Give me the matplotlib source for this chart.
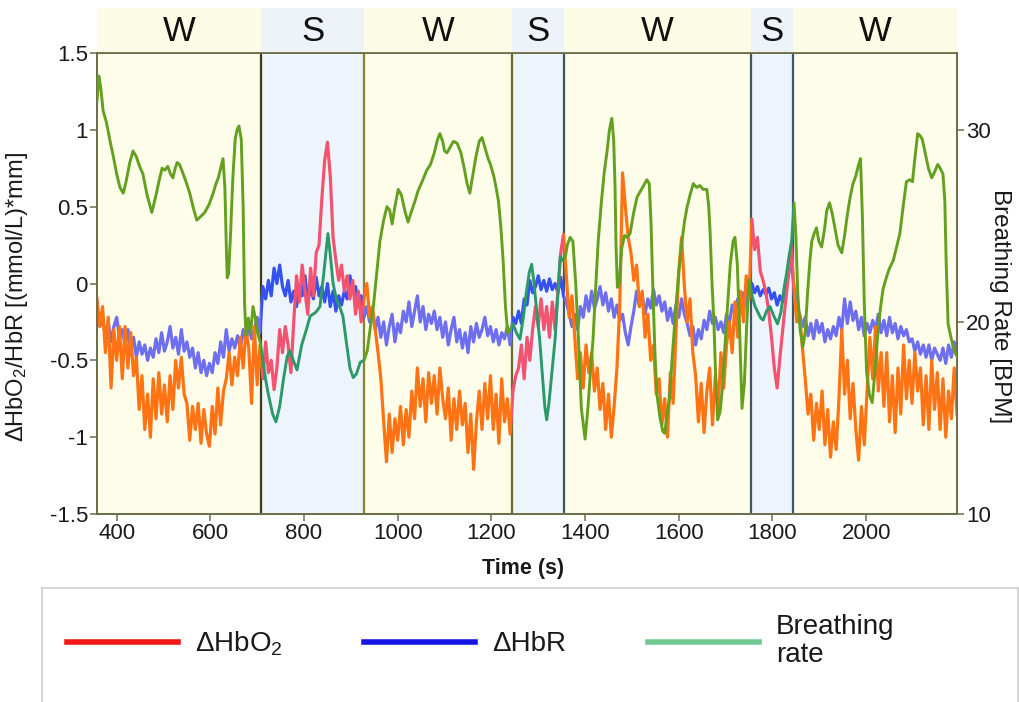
import numpy as np
import matplotlib
matplotlib.use("Agg")
import matplotlib.pyplot as plt
from matplotlib.patches import Rectangle
from matplotlib.lines import Line2D
from matplotlib import transforms

plt.rcParams['font.family'] = ['Liberation Sans', 'DejaVu Sans']
plt.rcParams['mathtext.fontset'] = 'custom'
plt.rcParams['mathtext.rm'] = 'Liberation Sans'
plt.rcParams['mathtext.it'] = 'Liberation Sans:italic'
plt.rcParams['mathtext.bf'] = 'Liberation Sans:bold'

# ---------------- data ----------------
band_edges = [358, 709, 929, 1243, 1355, 1755, 1843, 2194]
band_labels = ['W', 'S', 'W', 'S', 'W', 'S', 'W']
edge_colors = ['#3c3c1c', '#85852e', '#6b6b2a', '#3f5566', '#3f5566', '#3f5566']

x_ticks = [400, 600, 800, 1000, 1200, 1400, 1600, 1800, 2000]
y_ticks = [-1.5, -1, -0.5, 0, 0.5, 1, 1.5]
y_tick_labels = ['-1.5', '-1', '-0.5', '0', '0.5', '1', '1.5']
y2_ticks = [10, 20, 30]

# fNIRS samples every 6 s from 358 s to 2194 s
t_fnirs = np.arange(358, 2195, 6)

hbo2 = [
    -0.10, -0.28, -0.15, -0.45, -0.22, -0.68, -0.30, -0.50, -0.28, -0.62,
    -0.28, -0.55, -0.32, -0.60, -0.48, -0.82, -0.60, -0.95, -0.72, -1.00,
    -0.62, -0.88, -0.58, -0.85, -0.66, -0.90, -0.60, -0.82, -0.50, -0.68,
    -0.48, -0.72, -0.78, -1.02, -0.80, -0.95, -0.78, -1.04, -0.82, -0.98,
    -1.06, -0.80, -0.98, -0.68, -0.92, -0.70, -0.62, -0.45, -0.66, -0.48,
    -0.60, -0.35, -0.55, -0.30, -0.42, -0.78, -0.28, -0.66, -0.40, -0.62,
    -0.38, -0.58, -0.50, -0.69, -0.55, -0.30, -0.45, -0.28, -0.40, -0.58,
    -0.25, 0.05, -0.12, 0.12, -0.05, -0.20, 0.10, -0.08, 0.20, 0.25,
    0.55, 0.80, 0.92, 0.70, 0.30, 0.15, 0.02, 0.12, -0.05, 0.05,
    -0.10, 0.02, -0.20, -0.05, -0.25, -0.10, 0.00, -0.22, -0.15, -0.30,
    -0.45, -0.62, -0.90, -1.16, -0.85, -1.10, -0.88, -1.02, -0.80, -1.05,
    -0.82, -1.00, -0.70, -0.88, -0.55, -0.80, -0.62, -0.90, -0.58, -0.78,
    -0.60, -0.85, -0.55, -0.75, -0.88, -0.68, -1.02, -0.75, -0.95, -0.70,
    -0.92, -0.78, -1.10, -0.85, -1.21, -0.90, -0.70, -0.95, -0.65, -0.88,
    -0.60, -0.95, -0.72, -1.04, -0.62, -0.90, -0.75, -0.98, -0.70, -0.60,
    -0.55, -0.40, -0.62, -0.35, -0.50, -0.30, -0.15, -0.28, -0.10, -0.30,
    -0.15, -0.35, -0.12, -0.30, -0.05, 0.20, 0.32, 0.05, -0.22, -0.08,
    -0.35, -0.62, -0.45, -0.68, -0.40, -0.58, -0.45, -0.70, -0.55, -0.82,
    -0.65, -0.95, -0.72, -1.00, -0.80, -0.55, -0.15, 0.72, 0.50, 0.30,
    0.20, 0.02, 0.12, -0.15, -0.05, -0.35, -0.20, -0.50, -0.40, -0.72,
    -0.62, -0.92, -0.75, -1.00, -0.58, -0.78, -0.32, 0.08, 0.30, -0.02,
    -0.25, -0.10, -0.45, -0.60, -0.90, -0.65, -0.97, -0.70, -0.55, -0.92,
    -0.60, -0.82, -0.45, -0.68, -0.40, -0.25, -0.45, -0.12, -0.35, -0.05,
    -0.25, 0.05, -0.10, 0.42, 0.22, 0.30, 0.08, 0.02, -0.06, -0.18,
    -0.35, -0.55, -0.68, -0.48, -0.30, -0.12, 0.05, 0.25, -0.05, -0.25,
    -0.20, -0.42, -0.62, -0.85, -0.72, -1.02, -0.78, -0.95, -0.70, -1.05,
    -0.82, -1.13, -0.90, -1.08, -0.75, -0.30, -0.72, -0.50, -0.88, -0.65,
    -0.95, -1.15, -0.80, -1.05, -0.70, -0.35, -0.62, -0.28, -0.70, -0.45,
    -0.80, -0.45, -0.90, -0.60, -0.97, -0.55, -0.85, -0.40, -0.75, -0.50,
    -0.78, -0.45, -0.70, -0.55, -0.92, -0.60, -0.95, -0.50, -0.82, -0.58,
    -0.95, -0.62, -1.00, -0.70, -0.88, -0.55, -0.85,
]

hbr = [
    -0.18, -0.28, -0.22, -0.35, -0.25, -0.38, -0.28, -0.22, -0.36, -0.30,
    -0.40, -0.30, -0.44, -0.35, -0.48, -0.38, -0.46, -0.40, -0.50, -0.42,
    -0.48, -0.36, -0.45, -0.32, -0.44, -0.38, -0.28, -0.42, -0.35, -0.46,
    -0.30, -0.44, -0.38, -0.48, -0.42, -0.55, -0.45, -0.58, -0.50, -0.60,
    -0.52, -0.58, -0.45, -0.52, -0.38, -0.48, -0.30, -0.44, -0.36, -0.42,
    -0.34, -0.42, -0.30, -0.38, -0.28, -0.36, -0.30, -0.22, -0.32, -0.02,
    -0.10, 0.02, -0.08, 0.10, 0.00, 0.12, -0.02, -0.08, 0.02, -0.12,
    -0.05, -0.15, -0.02, -0.08, 0.05, -0.12, -0.02, -0.10, 0.04, -0.08,
    -0.02, -0.12, 0.00, -0.15, -0.05, -0.18, -0.08, -0.14, -0.05, -0.10,
    0.05, -0.06, -0.02, -0.15, -0.08, -0.22, -0.15, -0.25, -0.18, -0.30,
    -0.22, -0.35, -0.25, -0.40, -0.28, -0.20, -0.38, -0.26, -0.32, -0.18,
    -0.25, -0.12, -0.28, -0.18, -0.08, -0.25, -0.15, -0.30, -0.20, -0.26,
    -0.18, -0.30, -0.22, -0.35, -0.25, -0.40, -0.30, -0.22, -0.38, -0.30,
    -0.42, -0.32, -0.45, -0.28, -0.38, -0.26, -0.35, -0.30, -0.22, -0.34,
    -0.28, -0.38, -0.30, -0.40, -0.32, -0.36, -0.28, -0.40, -0.22, -0.26,
    -0.18, -0.26, -0.10, -0.14, 0.02, -0.06, -0.02, 0.05, -0.04, 0.02,
    -0.05, 0.03, -0.04, 0.00, -0.06, 0.04, -0.08, -0.12, -0.20, -0.28,
    -0.20, -0.30, -0.15, -0.22, -0.08, -0.18, -0.05, -0.16, -0.10, -0.02,
    -0.14, -0.06, -0.18, -0.10, -0.22, -0.14, -0.24, -0.20, -0.32, -0.40,
    -0.28, -0.18, -0.05, -0.15, -0.08, -0.20, -0.10, -0.16, -0.04, -0.14,
    -0.08, -0.18, -0.12, -0.24, -0.16, -0.26, -0.14, -0.22, -0.10, -0.20,
    -0.26, -0.34, -0.28, -0.40, -0.30, -0.36, -0.24, -0.30, -0.18, -0.26,
    -0.22, -0.30, -0.25, -0.32, -0.20, -0.26, -0.14, -0.20, -0.10, -0.16,
    -0.06, -0.14, -0.02, 0.00, -0.06, -0.02, -0.08, -0.04, -0.07, -0.03,
    -0.10, -0.06, -0.14, -0.08, -0.12, -0.02, 0.05, 0.18, -0.02, -0.14,
    -0.20, -0.28, -0.22, -0.34, -0.26, -0.36, -0.24, -0.32, -0.26, -0.38,
    -0.30, -0.36, -0.28, -0.34, -0.22, -0.30, -0.10, -0.26, -0.12, -0.24,
    -0.18, -0.30, -0.22, -0.34, -0.26, -0.32, -0.24, -0.30, -0.20, -0.32,
    -0.24, -0.34, -0.22, -0.32, -0.26, -0.36, -0.28, -0.34, -0.30, -0.38,
    -0.36, -0.44, -0.38, -0.46, -0.40, -0.48, -0.40, -0.50, -0.42, -0.46,
    -0.50, -0.42, -0.52, -0.40, -0.48, -0.38, -0.44,
]

br_t = [
    358, 362, 366, 371, 378, 386, 393, 400, 407, 414, 420, 428, 435, 442, 449,
    456, 465, 475, 484, 491, 497, 503, 509, 515, 520, 525, 529, 534, 539, 548,
    556, 564, 571, 580, 588, 597, 606, 612, 617, 622, 627, 631, 634, 636, 639,
    643, 648, 653, 657, 661, 666, 670, 673, 676, 681, 686, 691, 696, 701, 706,
    712, 718, 724, 733, 740, 748, 756, 764, 770, 777, 785, 795, 805, 813, 825,
    834, 842, 851, 856, 862, 869, 876, 883, 890, 898, 905, 912, 920, 928,
    935, 942, 948, 955, 962, 970, 977, 983, 988, 994, 1001, 1008, 1015, 1022,
    1030, 1037, 1043, 1052, 1062, 1070, 1078, 1085, 1090, 1096, 1100, 1105,
    1112, 1119, 1127, 1135, 1142, 1148, 1154, 1160, 1167, 1174, 1180, 1187,
    1193, 1198, 1205, 1210, 1215, 1220, 1225, 1230, 1235, 1240,
    1246, 1254, 1261, 1268, 1275, 1281, 1286, 1291, 1297, 1303, 1309, 1314,
    1318, 1323, 1330, 1336, 1342, 1347, 1352,
    1358, 1362, 1368, 1374, 1380, 1386, 1392, 1400, 1406, 1412, 1417, 1422,
    1428, 1435, 1441, 1447, 1452, 1457, 1461, 1464, 1466, 1469, 1473, 1478,
    1484, 1490, 1496, 1503, 1511, 1518, 1525, 1532, 1537, 1541, 1545, 1549,
    1553, 1560, 1566, 1570, 1575, 1580, 1587, 1594, 1600, 1607, 1612, 1618,
    1624, 1631, 1638, 1645, 1652, 1660, 1664, 1667, 1671, 1675, 1679, 1683,
    1688, 1693, 1698, 1704, 1710, 1716, 1720, 1725, 1730, 1735, 1740, 1745,
    1750,
    1757, 1763, 1769, 1775, 1780, 1788, 1795, 1803, 1811, 1818, 1825, 1830,
    1836, 1841,
    1846, 1850, 1854, 1859, 1865, 1870, 1875, 1880, 1884, 1889, 1894, 1899,
    1905, 1911, 1916, 1922, 1928, 1934, 1940, 1948, 1954, 1960, 1966, 1972,
    1978, 1983, 1988, 1992, 1996, 2001, 2007, 2013, 2018, 2024, 2030, 2036,
    2043, 2050, 2058, 2065, 2072, 2079, 2086, 2093, 2099, 2104, 2110, 2115,
    2120, 2126, 2133, 2140, 2146, 2153, 2158, 2164, 2168, 2171, 2175, 2181,
    2188, 2194,
]

br_v = [
    31.5, 32.8, 32.2, 31.0, 30.4, 29.4, 28.6, 27.7, 27.0, 26.7, 27.3, 28.3, 28.9, 28.6, 28.1,
    27.7, 26.6, 25.7, 26.6, 27.4, 28.0, 27.9, 28.1, 27.7, 27.5, 28.0, 28.3, 28.2, 27.9, 27.3,
    26.7, 25.9, 25.3, 25.5, 25.7, 26.1, 26.7, 27.2, 27.5, 28.0, 28.5, 27.0, 24.0, 22.3, 22.5,
    24.5, 27.5, 29.5, 30.0, 30.2, 29.5, 26.0, 21.0, 19.3, 20.2, 19.4, 20.8, 20.2, 19.4, 19.0,
    18.0, 17.0, 16.2, 15.2, 14.8, 15.6, 17.0, 18.2, 18.5, 18.0, 17.5, 18.8, 19.6, 20.3, 20.5,
    20.8, 22.5, 24.6, 23.5, 22.0, 21.2, 20.8, 20.3, 19.0, 17.6, 17.1, 17.3, 17.9, 18.0,
    18.5, 19.8, 20.8, 22.5, 24.2, 25.3, 26.0, 25.8, 25.1, 26.0, 26.9, 26.6, 25.8, 25.2,
    25.8, 26.3, 26.8, 27.3, 27.9, 28.2, 28.8, 29.5, 29.8, 29.4, 28.9, 28.8,
    29.1, 29.4, 29.3, 28.8, 28.0, 27.2, 26.7, 27.6, 28.6, 29.4, 29.6, 29.0,
    28.5, 28.2, 27.6, 27.0, 26.3, 25.0, 23.2, 20.8, 19.4, 19.6,
    19.9, 19.4, 19.1, 20.2, 21.6, 22.6, 23.0, 22.0, 20.5, 19.1, 17.2, 15.6,
    14.9, 15.8, 17.6, 19.1, 21.5, 23.4, 23.2,
    23.4, 24.0, 24.4, 24.2, 22.0, 19.0, 15.5, 13.9, 15.5, 17.6, 19.1, 21.5,
    24.2, 26.3, 27.8, 28.9, 30.0, 30.6, 29.5, 27.0, 24.0, 21.8, 22.0, 23.8,
    24.5, 24.4, 24.6, 25.6, 26.5, 26.8, 27.1, 27.4, 27.2, 25.0, 21.5, 18.5,
    16.3, 15.0, 14.3, 14.2, 15.2, 16.0, 18.5, 20.8, 22.6, 24.2, 25.2, 26.0,
    26.6, 27.2, 27.0, 27.1, 26.9, 26.9, 26.0, 24.6, 22.0, 20.0, 17.0, 14.9,
    15.3, 16.5, 18.5, 20.8, 23.0, 24.2, 24.4, 23.0, 19.5, 15.5, 16.8, 19.8,
    22.2,
    21.3, 20.8, 20.5, 20.2, 20.1, 20.6, 20.8, 20.3, 19.9, 20.5, 21.8, 22.5,
    23.5, 24.2,
    26.2, 24.5, 21.5, 19.6, 18.7, 19.5, 21.5, 23.2, 24.2, 24.6, 24.9, 24.2,
    23.9, 24.8, 25.8, 26.2, 25.6, 24.8, 24.0, 23.6, 24.5, 25.6, 26.5, 27.2,
    27.6, 28.1, 28.5, 25.5, 21.0, 17.4, 16.2, 15.8, 17.2, 19.1, 20.6, 21.7,
    22.3, 22.8, 23.2, 23.9, 24.6, 26.0, 27.3, 27.4, 27.3, 28.5, 29.8, 29.7,
    29.5, 28.8, 28.0, 27.5, 27.8, 28.2, 28.0, 27.7, 26.3, 23.0, 19.9, 19.2,
    18.5, 18.2,
]

# ---------------- styles ----------------
W_BG, S_BG = '#fdfdea', '#eef4fb'
HBO2_W, HBO2_S = '#ff7314', '#f2546f'
HBR_W, HBR_S = '#6e6ef0', '#3552f0'
BR_W, BR_S = '#64a020', '#2b9a68'
SPINE = '#6e6e4c'
TXT = '#1a1a1a'

fig = plt.figure(figsize=(10.2, 7.02), dpi=100)
fig.patch.set_facecolor('white')

L, R, B, T = 97 / 1020, 957 / 1020, 1 - 514 / 702, 1 - 53 / 702
ax = fig.add_axes([L, B, R - L, T - B])
ax.set_xlim(band_edges[0], band_edges[-1])
ax.set_ylim(-1.5, 1.5)

for i, lab in enumerate(band_labels):
    ax.axvspan(band_edges[i], band_edges[i + 1],
               color=W_BG if lab == 'W' else S_BG, lw=0, zorder=0)
for e, c in zip(band_edges[1:-1], edge_colors):
    ax.axvline(e, color=c, lw=1.6, zorder=1)

ax2 = ax.twinx()
ax2.set_ylim(10, 34)
ax2.set_zorder(ax.get_zorder() + 1)
ax2.patch.set_visible(False)


def banded(axis, t, v, cw, cs, lw, z):
    blend = transforms.blended_transform_factory(axis.transData, axis.transAxes)
    for i, lab in enumerate(band_labels):
        ln, = axis.plot(t, v, color=cw if lab == 'W' else cs, lw=lw, zorder=z)
        clip = Rectangle((band_edges[i], 0), band_edges[i + 1] - band_edges[i], 1,
                         transform=blend)
        ln.set_clip_path(clip)


banded(ax, t_fnirs, hbr, HBR_W, HBR_S, 2.3, 3)
banded(ax, t_fnirs, hbo2, HBO2_W, HBO2_S, 2.3, 4)
banded(ax2, br_t, br_v, BR_W, BR_S, 2.1, 5)

# axes styling
for a in (ax, ax2):
    for s in a.spines.values():
        s.set_color(SPINE)
        s.set_linewidth(1.3)
ax.set_xticks(x_ticks)
ax.set_yticks(y_ticks)
ax.set_yticklabels(y_tick_labels)
ax2.set_yticks(y2_ticks)
for a in (ax, ax2):
    a.tick_params(direction='out', length=5, width=1.1, color=SPINE,
                  labelsize=16, labelcolor=TXT, pad=1.5)

ax.set_ylabel('ΔHbO$_2$/HbR [(mmol/L)*mm]', fontsize=17, color=TXT)
ax.yaxis.set_label_coords(-0.078, 0.47)
ax2.set_ylabel('Breathing Rate [BPM]', fontsize=17.5, color=TXT,
               rotation=270, va='center')
ax2.yaxis.set_label_coords(1.05, 0.45)
ax.set_xlabel('Time (s)', fontsize=15.5, fontweight='bold', color=TXT)
ax.xaxis.set_label_coords(0.495, -0.095)

# header strip with W / S labels
hB = T
hT = 1 - 8 / 702
axh = fig.add_axes([L, hB, R - L, hT - hB])
axh.set_xlim(band_edges[0], band_edges[-1])
axh.set_ylim(0, 1)
for i, lab in enumerate(band_labels):
    axh.axvspan(band_edges[i], band_edges[i + 1],
                color='#fbfbe6' if lab == 'W' else '#eef3fa', lw=0)
    axh.text((band_edges[i] + band_edges[i + 1]) / 2, 0.47, lab,
             ha='center', va='center', fontsize=25, color='#111111')
axh.set_xticks([])
axh.set_yticks([])
for s in axh.spines.values():
    s.set_visible(False)

# legend panel
lg_l, lg_t = 42 / 1020, 1 - 588 / 702
axl = fig.add_axes([lg_l, -0.01, 1018 / 1020 - lg_l, lg_t + 0.01])
axl.set_xticks([])
axl.set_yticks([])
for s in axl.spines.values():
    s.set_color('#cfcfcf')
    s.set_linewidth(1.2)
axl.spines['bottom'].set_visible(False)
handles = [Line2D([], [], color='#f01818', lw=4),
           Line2D([], [], color='#1414e6', lw=4),
           Line2D([], [], color='#72c892', lw=4)]
labels = ['ΔHbO$_2$', 'ΔHbR', 'Breathing\nrate']
leg = axl.legend(handles, labels, ncol=3, loc='center left',
                 bbox_to_anchor=(0.014, 0.56), borderaxespad=0, frameon=False,
                 fontsize=20, handlelength=4.0, handletextpad=0.6,
                 columnspacing=2.95)
for txt in leg.get_texts():
    txt.set_linespacing(1.1)
    txt.set_color(TXT)

fig.savefig('out.png', dpi=100)
